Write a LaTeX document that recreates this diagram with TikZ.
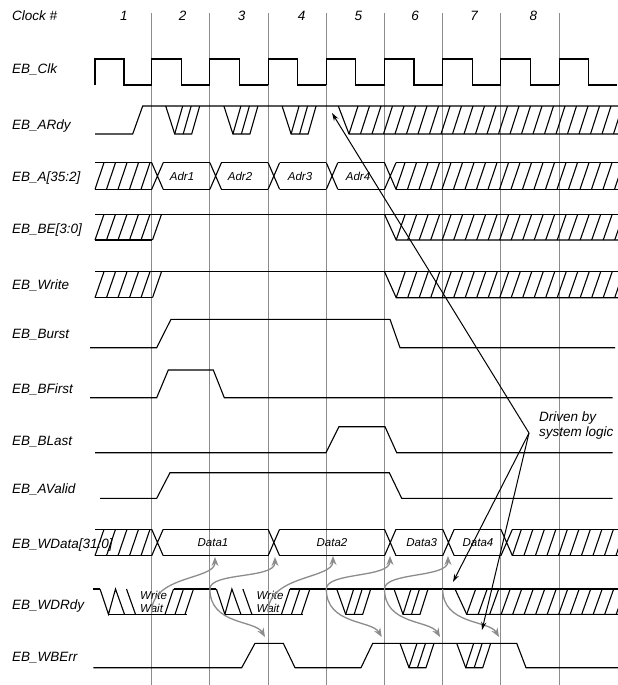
\documentclass[tikz,border=0pt]{standalone}
\usepackage{fontspec}
\setmainfont{Liberation Sans}
\usetikzlibrary{arrows.meta}

\tikzset{
  sig/.style={line width=1.1pt},
  gridline/.style={line width=1pt, color=black!45},
  siglabel/.style={anchor=base west, inner sep=0pt, font=\fontsize{13.5}{15}\selectfont\itshape},
  valtext/.style={inner sep=0pt, font=\fontsize{11.5}{13}\selectfont\itshape},
  feedback/.style={line width=1.3pt, color=black!45, -{Stealth[length=9pt,width=7pt]}},
  driven/.style={line width=1pt, -{Stealth[length=8pt,width=5pt]}},
}

% hatch strokes: first bottom x, last bottom x, top y, bottom y
\newcommand{\hatch}[4]{%
  \pgfmathtruncatemacro{\hn}{((#2)-(#1))/11.5}
  \foreach \k in {0,...,\hn}
    {\draw[sig] ({#1+11.5*\k},#4) -- ({#1+11.5*\k+9},#3);}
}
% don't-care dip under the high level
\newcommand{\dip}[3]{%
  \draw[sig] (#1,#2) -- ({#1+9},#3) -- ({#1+26},#3) -- ({#1+34},#2);
  \draw[sig] ({#1+9},#3) -- ({#1+17},#2) ({#1+17.5},#3) -- ({#1+25.5},#2);
}
% bus value change
\newcommand{\buscross}[3]{%
  \draw[sig] (#1,#2) -- ({#1+11.5},#3) (#1,#3) -- ({#1+11.5},#2);
}

\begin{document}
\begin{tikzpicture}[x=1pt,y=-1pt]
  \useasboundingbox (0,0) rectangle (618,685);

  % clock grid
  \foreach \i in {1,...,8}
    {\draw[gridline] ({93.5+58.2*\i},13) -- ({93.5+58.2*\i},685);}

  \node[siglabel] (lhdr) at (12,21) {Clock \#};
  \foreach \n/\x in {1/124,2/182.7,3/241.7,4/301.7,5/358.3,6/415,7/474,8/533.3}
    {\node[siglabel, anchor=base] (num\n) at (\x,21) {\n};}

  % signal names
  \node[siglabel] (lclk) at (12,73.5) {EB\_Clk};
  \node[siglabel] (lardy) at (12,129) {EB\_ARdy};
  \node[siglabel] (laddr) at (12,181) {EB\_A[35:2]};
  \node[siglabel] (lbe) at (12,233) {EB\_BE[3:0]};
  \node[siglabel] (lwrite) at (12,289) {EB\_Write};
  \node[siglabel] (lburst) at (12,338) {EB\_Burst};
  \node[siglabel] (lbfirst) at (12,393) {EB\_BFirst};
  \node[siglabel] (lblast) at (12,445) {EB\_BLast};
  \node[siglabel] (lavalid) at (12,493) {EB\_AValid};
  \node[siglabel] (lwdata) at (12,548) {EB\_WData[31:0]};
  \node[siglabel] (lwdrdy) at (12,609) {EB\_WDRdy};
  \node[siglabel] (lwberr) at (12,661.5) {EB\_WBErr};

  % EB_Clk
  \draw[sig] (95,85) -- (95,59) -- (124,59) -- (124,85) -- (151.7,85);
  \foreach \i in {1,...,8}
    {\draw[sig] ({93.5+58.2*\i},85) -- ({93.5+58.2*\i},59) -- ({123+58.2*\i},59)
       -- ({123+58.2*\i},85) -- ({151.7+58.2*\i},85);}

  % EB_ARdy
  \draw[sig] (95,134) -- (132.7,134) -- (142.7,106) -- (618,106);
  \foreach \x in {165.7,223.9,282.1} {\dip{\x}{106}{134}}
  \draw[sig] (338.3,106) -- (349,134) -- (618,134);
  \hatch{349}{618}{106}{134}

  % EB_A[35:2]
  \draw[sig] (95,162.7) -- (151.7,162.7) (95,189.3) -- (151.7,189.3);
  \hatch{95}{141}{162.7}{189.3}
  \foreach \i [evaluate=\i as \lx using 93.5+58.2*\i] in {1,...,5}
    {\buscross{\lx}{162.7}{189.3}}
  \foreach \i [evaluate=\i as \lx using 93.5+58.2*\i] in {1,...,4}
    {\draw[sig] ({\lx+11.5},162.7) -- ({\lx+58.2},162.7) ({\lx+11.5},189.3) -- ({\lx+58.2},189.3);}
  \draw[sig] (396,162.7) -- (618,162.7) (396,189.3) -- (618,189.3);
  \hatch{396}{618}{162.7}{189.3}
  \node[valtext] (adr1) at (182,176) {Adr1};
  \node[valtext] (adr2) at (240,176) {Adr2};
  \node[valtext] (adr3) at (300,176) {Adr3};
  \node[valtext] (adr4) at (358,176) {Adr4};

  % EB_BE[3:0]
  \draw[sig] (95,214.3) -- (618,214.3) (95,240) -- (151.7,240);
  \hatch{95}{153}{214.3}{240}
  \draw[sig] (384.5,214.3) -- (396.2,240) -- (618,240);
  \hatch{396.2}{618}{214.3}{240}

  % EB_Write
  \draw[sig] (95,271.7) -- (618,271.7) (95,297.7) -- (151.7,297.7);
  \hatch{95}{153}{271.7}{297.7}
  \draw[sig] (384.5,271.7) -- (396.2,297.7) -- (618,297.7);
  \hatch{396.2}{618}{271.7}{297.7}

  % EB_Burst, EB_BFirst, EB_BLast, EB_AValid
  \draw[sig] (90,347.7) -- (156.7,347.7) -- (171,319.3) -- (390,319.3) -- (400,347.7) -- (615,347.7);
  \draw[sig] (90,397.7) -- (156.7,397.7) -- (168.3,370) -- (213.3,370) -- (224.3,397.7) -- (612.7,397.7);
  \draw[sig] (95,452.7) -- (326,452.7) -- (339,426.7) -- (385,426.7) -- (396.7,452.7) -- (612.7,452.7);
  \draw[sig] (100,498.3) -- (156.7,498.3) -- (170,472.7) -- (389.3,472.7) -- (401.7,498.3) -- (612.7,498.3);

  % EB_WData[31:0]
  \draw[sig] (95,529.3) -- (151.7,529.3) (95,555.7) -- (151.7,555.7);
  \hatch{95}{141}{529.3}{555.7}
  \foreach \x in {151.7,268.1,384.5,442.7,500.9} {\buscross{\x}{529.3}{555.7}}
  \foreach \a/\b in {163.2/268.1,279.6/384.5,396/442.7,454.2/500.9}
    {\draw[sig] (\a,529.3) -- (\b,529.3) (\a,555.7) -- (\b,555.7);}
  \draw[sig] (512.4,529.3) -- (618,529.3) (512.4,555.7) -- (618,555.7);
  \hatch{512.4}{618}{529.3}{555.7}
  \node[valtext] (data1) at (213,542.5) {Data1};
  \node[valtext] (data2) at (332,542.5) {Data2};
  \node[valtext] (data3) at (421.7,542.5) {Data3};
  \node[valtext] (data4) at (478,542.5) {Data4};

  % EB_WDRdy
  \foreach \lx in {93.5,209.9} {
    \draw[sig] ({\lx+6.5},589) -- ({\lx+15},614.3) -- ({\lx+22},589) -- ({\lx+31},614.3);
    \draw[sig] ({\lx+33},589) -- ({\lx+42},614.3);
    \draw[sig] ({\lx+15},614.3) -- ({\lx+93},614.3);
    \foreach \h in {71.5,81.5,91.5}
      {\draw[sig] ({\lx+\h},614.3) -- ({\lx+\h+8.5},589);}
  }
  \draw[sig] (93.3,589) -- (100,589) (173.5,589) -- (216.4,589) (289.9,589) -- (618,589);
  \dip{336.7}{589}{614.3}
  \dip{394}{589}{614.3}
  \draw[sig] (455,589) -- (466.7,614.3) -- (618,614.3);
  \hatch{466.7}{618}{589}{614.3}
  \node[valtext, anchor=west, align=left] (wwait1) at (140,601.5) {Write\\Wait};
  \node[valtext, anchor=west, align=left] (wwait2) at (256.4,601.5) {Write\\Wait};

  % EB_WBErr
  \draw[sig] (93.3,667.7) -- (241.7,667.7) -- (255,643.3) -- (283.3,643.3) -- (295,667.7)
    -- (361,667.7) -- (372.7,643.3) -- (516.7,643.3) -- (526,667.7) -- (618,667.7);
  \dip{400}{643.3}{667.7}
  \dip{456.7}{643.3}{667.7}

  % WDRdy sampling arrows
  \coordinate (rdy1) at (151.7,612);
  \coordinate (rdy2) at (209.9,589);
  \coordinate (rdy3) at (268.1,612);
  \coordinate (rdy4) at (326.3,589);
  \coordinate (rdy5) at (384.5,589);
  \coordinate (rdy6) at (442.7,589);
  \coordinate (wd1) at (215,557);
  \coordinate (wd2) at (275,557);
  \coordinate (wd3) at (333,556);
  \coordinate (wd4) at (390,556);
  \coordinate (wd5) at (448,556);
  \coordinate (err1) at (265,637);
  \coordinate (err2) at (381.7,637);
  \coordinate (err3) at (440,637);
  \coordinate (err4) at (499,637);
  \draw[feedback] (rdy1) .. controls +(0,-37) and +(0,23) .. (wd1);
  \draw[feedback] (rdy2) .. controls +(0,-17) and +(0,22) .. (wd2);
  \draw[feedback] (rdy3) .. controls +(0,-37) and +(0,23) .. (wd3);
  \draw[feedback] (rdy4) .. controls +(0,-17) and +(0,22) .. (wd4);
  \draw[feedback] (rdy5) .. controls +(0,-17) and +(0,22) .. (wd5);
  \draw[feedback] (rdy2) .. controls +(0,36) and +(-10,-17) .. (err1);
  \draw[feedback] (rdy4) .. controls +(0,36) and +(-10,-17) .. (err2);
  \draw[feedback] (rdy5) .. controls +(0,36) and +(-10,-17) .. (err3);
  \draw[feedback] (rdy6) .. controls +(0,36) and +(-10,-17) .. (err4);

  % system logic callout
  \node[siglabel, anchor=west, align=left] (drv) at (539,425.5) {Driven by\\system logic};
  \coordinate (drvpt) at (529,433);
  \coordinate (ardytip) at (332,113);
  \coordinate (wdrtip) at (453,582);
  \coordinate (errtip) at (482,630);
  \draw[driven] (drvpt) -- (ardytip);
  \draw[driven] (drvpt) -- (wdrtip);
  \draw[driven] (drvpt) -- (errtip);
\end{tikzpicture}
\end{document}
